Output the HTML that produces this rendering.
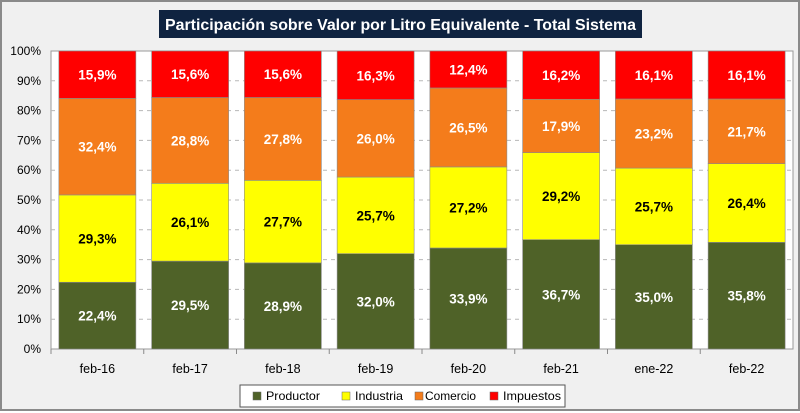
<!DOCTYPE html>
<html><head><meta charset="utf-8"><style>
body{margin:0;background:#fff}
#wrap{position:relative;width:800px;height:411px;background:#f0f0f0;box-sizing:border-box;border:2px solid #8a8a8a;font-family:"Liberation Sans",sans-serif}
svg{position:absolute;left:0;top:0}
</style></head><body>
<div id="wrap">
<svg id="chart" width="800" height="411"></svg>
</div>
<script>
const categories=["feb-16","feb-17","feb-18","feb-19","feb-20","feb-21","ene-22","feb-22"];
const productor=[22.4,29.5,28.9,32.0,33.9,36.7,35.0,35.8];
const industria=[29.3,26.1,27.7,25.7,27.2,29.2,25.7,26.4];
const comercio=[32.4,28.8,27.8,26.0,26.5,17.9,23.2,21.7];
const impuestos=[15.9,15.6,15.6,16.3,12.4,16.2,16.1,16.1];
const yTicks=[0,10,20,30,40,50,60,70,80,90,100];
const seriesNames=["Productor","Industria","Comercio","Impuestos"];

const NS="http://www.w3.org/2000/svg";
const svg=document.getElementById('chart');
const L=49,R=791,T=49,B=347;
const cw=(R-L)/categories.length, bw=77;
const y=v=>B-(B-T)*v/100;
const x=i=>L+cw*i+(cw-bw)/2;
function mk(tag,attrs,parent){const e=document.createElementNS(NS,tag);for(const k in attrs)e.setAttribute(k,attrs[k]);(parent||svg).appendChild(e);return e;}

const plot=mk('rect',{x:L,y:T,width:R-L,height:B-T,fill:'#fff',stroke:'#9a9a9a'});



yTicks.forEach(t=>{
  if(t>0&&t<100){const g=mk('line',{x1:L,x2:R,y1:y(t),y2:y(t),stroke:'#b8b8b8','stroke-dasharray':'4,4'});
  
  }
  const tx=mk('text',{x:L-10,y:y(t)+4,'text-anchor':'end','font-size':12,fill:'#000'});
  tx.textContent=t+'%';
  
  
});

const colors=["#4f6228","#ffff00","#f47c1b","#ff0000"];
const txtCol=["#fff","#000","#fff","#fff"];
const data=[productor,industria,comercio,impuestos];
categories.forEach((c,i)=>{
  let acc=0;
  data.forEach((s,k)=>{
    const v=s[i];
    const r=mk('rect',{x:x(i),y:y(acc+v),width:bw,height:y(acc)-y(acc+v),fill:colors[k],stroke:'#8a8a8a','stroke-width':0.6});
    
    
    const t=mk('text',{x:x(i)+bw/2,y:y(acc+v/2)+5,'text-anchor':'middle','font-size':13.5,'font-weight':'bold',fill:txtCol[k]});
    t.textContent=v.toFixed(1).replace('.',',')+'%';
    
    
    acc+=v;
  });
  const tk=mk('line',{x1:L+cw*i,x2:L+cw*i,y1:B,y2:B+5,stroke:'#8a8a8a'});
  
  
  const lb=mk('text',{x:L+cw*(i+0.5),y:B+24,'text-anchor':'middle','font-size':12.5,fill:'#000'});
  lb.textContent=c;
  
  
});

// title
const tb=mk('rect',{x:157,y:8,width:483,height:28,fill:'#0f2340'});


const tt=mk('text',{x:163,y:28,'font-size':16,'font-weight':'bold',fill:'#fff',textLength:471,lengthAdjust:'spacingAndGlyphs'});
tt.textContent='Participación sobre Valor por Litro Equivalente - Total Sistema';



// legend
const lg=mk('rect',{x:238,y:383,width:325,height:22,fill:'#fff',stroke:'#555'});


const lx=[251,340,413,488];
const lw=[54,48,51,58];
seriesNames.forEach((n,k)=>{
  const s=mk('rect',{x:lx[k],y:390,width:8,height:8,fill:colors[k],stroke:'#666','stroke-width':0.5});
  
  
  const t=mk('text',{x:lx[k]+(k==2?10:13),y:398,'font-size':12,fill:'#000',textLength:lw[k],lengthAdjust:'spacingAndGlyphs'});
  t.textContent=n;
  
  
});
</script>
</body></html>
